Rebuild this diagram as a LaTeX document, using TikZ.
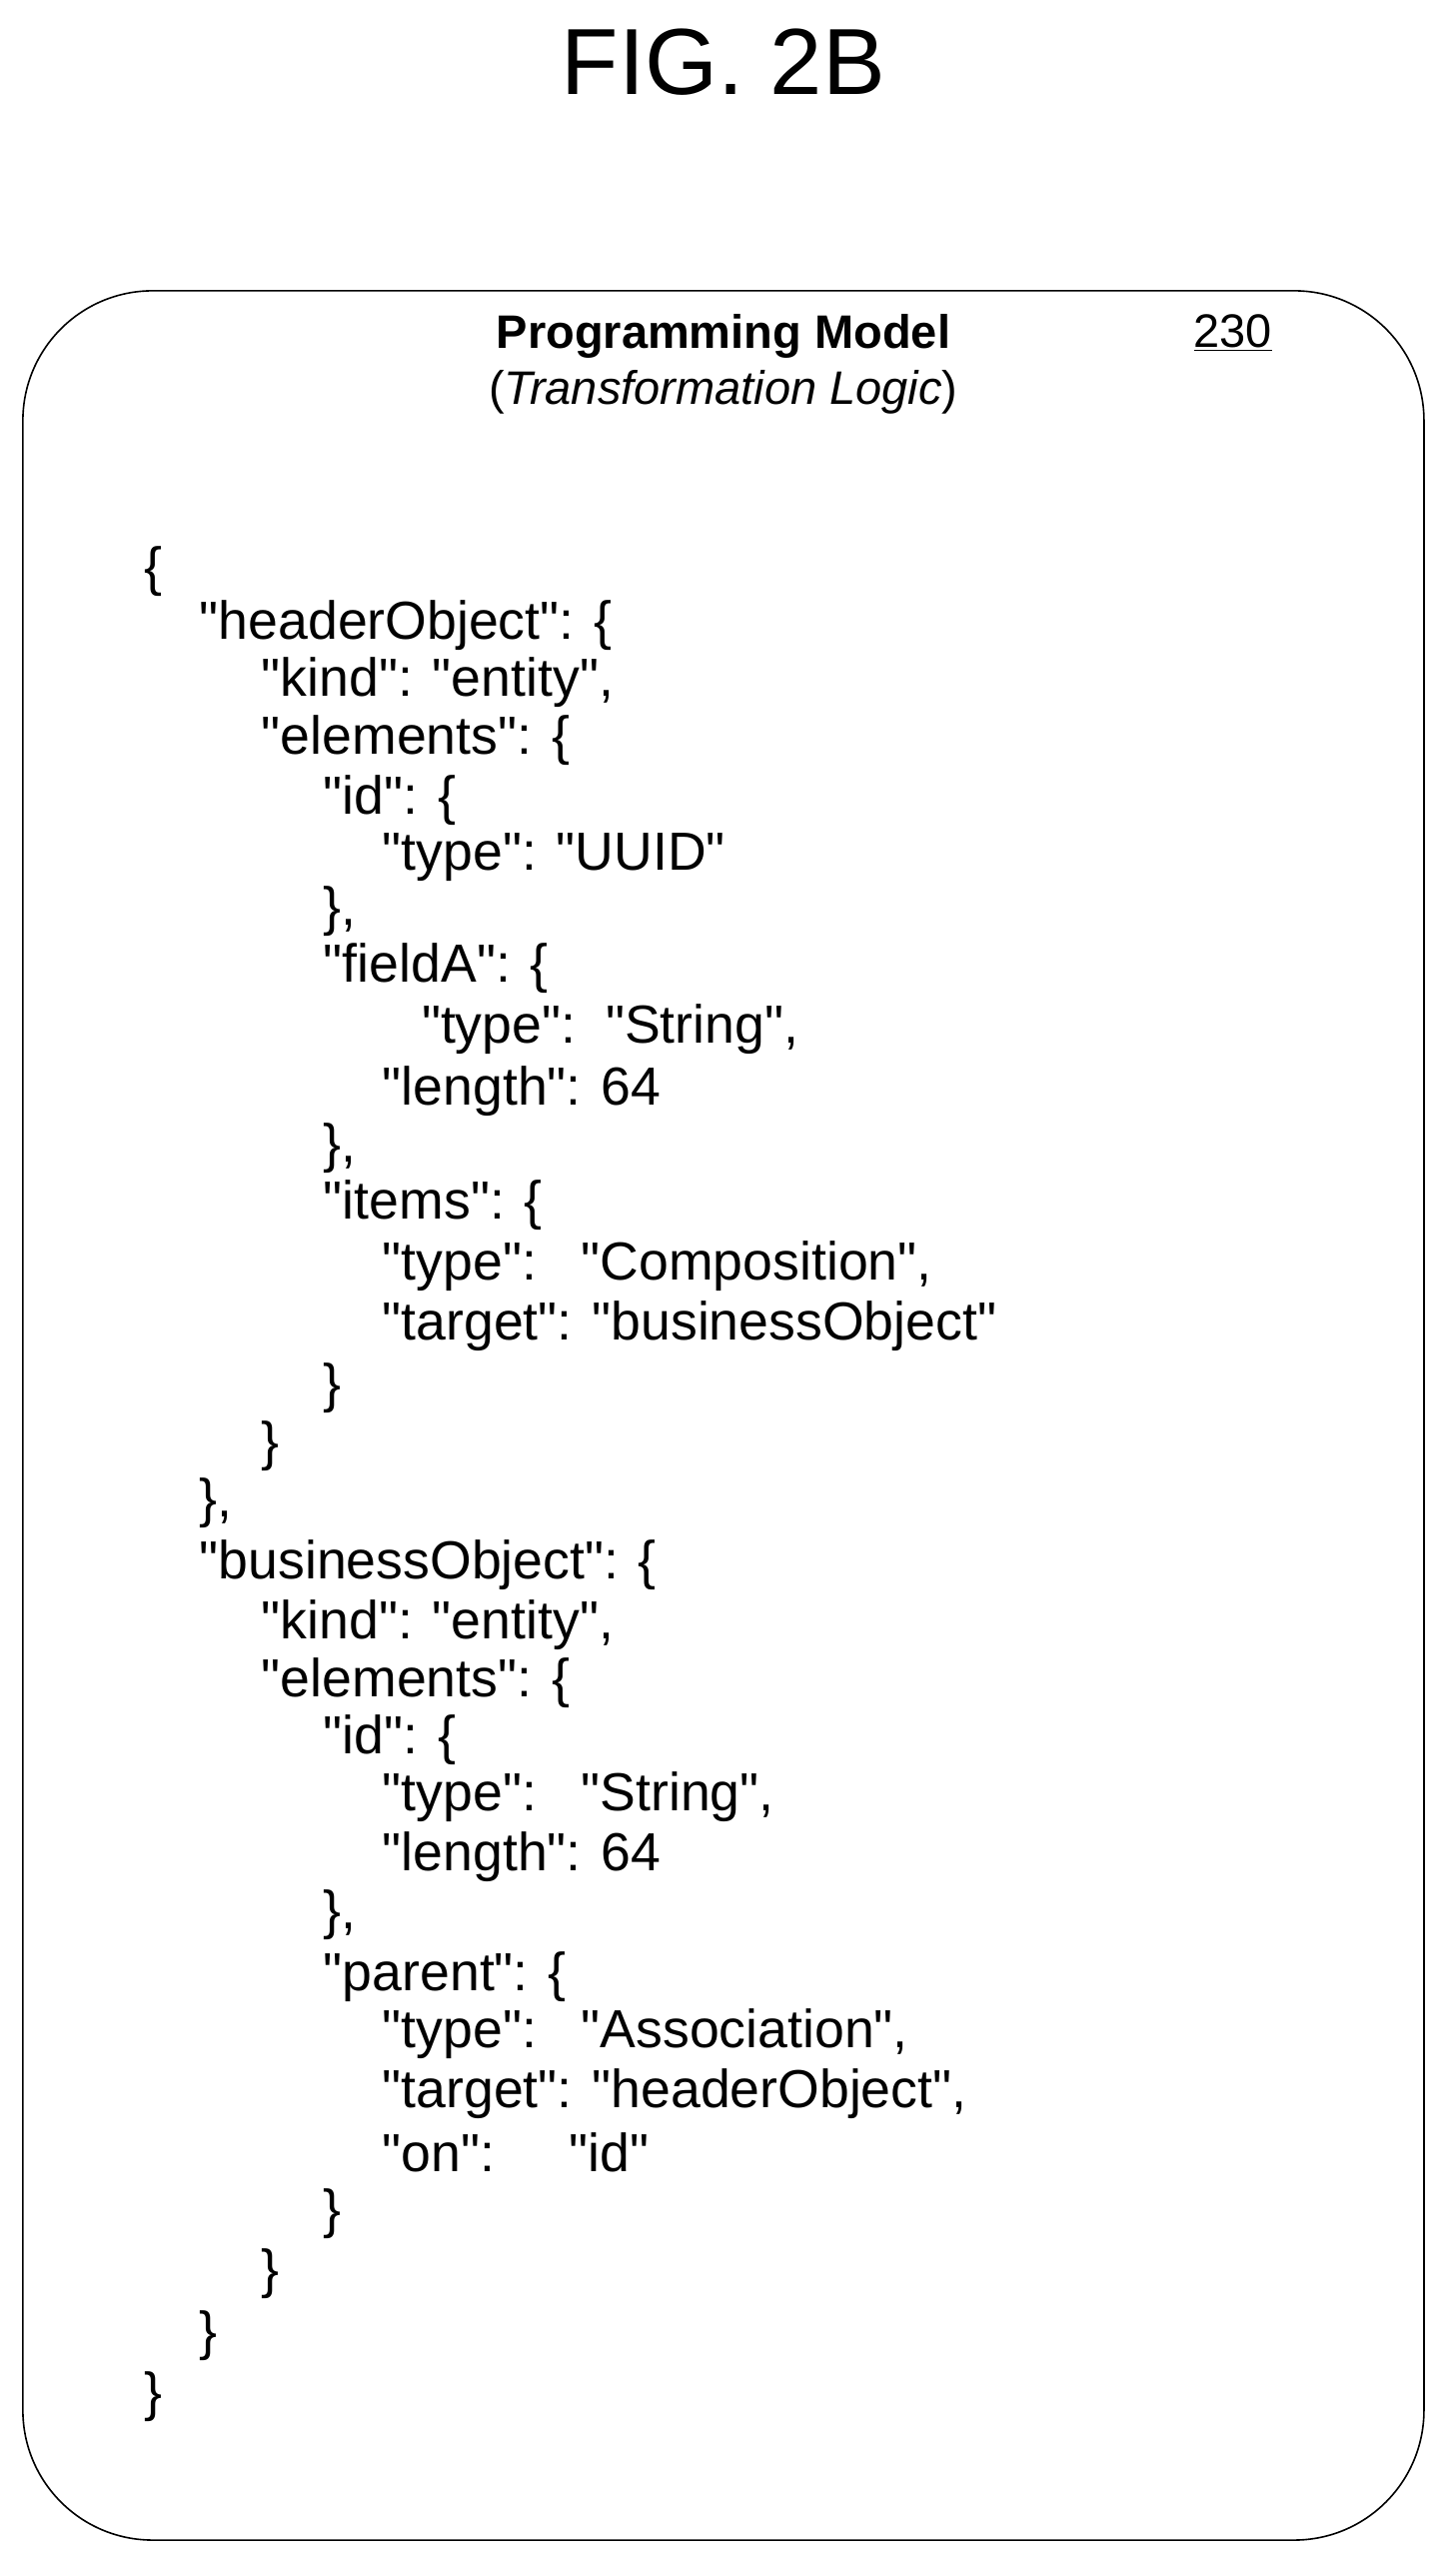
\documentclass[tikz,border=0pt]{standalone}
\usepackage{fontspec}
\setmainfont{Liberation Sans}[Ligatures=TeXOff]
\begin{document}
\begin{tikzpicture}[x=0.817pt,y=-0.817pt,
  code/.style={anchor=west,inner sep=0pt,font=\fontsize{26.8}{30}\selectfont},
  frame/.style={draw,line width=0.8pt,rounded corners=65pt}]
\useasboundingbox (0,0) rectangle (890,1577);
\node[inner sep=0pt,font=\fontsize{47}{52}\selectfont] (title) at (443,38) {FIG. 2B};
\draw[frame] (14,178) rectangle (872,1555);
\node[inner sep=0pt,font=\fontsize{23.5}{26}\selectfont\bfseries] (hdr) at (443,206) {Programming Model};
\node[inner sep=0pt,font=\fontsize{23.5}{26}\selectfont] (hdr2) at (443,240) {(\textit{Transformation Logic})};
\node[inner sep=0pt,font=\fontsize{23.5}{26}\selectfont] (ref) at (755,204) {\underline{230}};
\foreach \x/\y/\t in {
88/350/{\{},
122/383/{"headerObject": \{},
160/418/{"kind": "entity",},
160/453/{"elements": \{},
198/490/{"id": \{},
234/525/{"type": "UUID"},
198/558/{\},},
198/593/{"fieldA": \{},
258/630/{"type":\ \ "String",},
234/668/{"length": 64},
198/703/{\},},
198/738/{"items": \{},
234/775/{"type":\ \ \ "Composition",},
234/812/{"target": "businessObject"},
198/850/{\}},
160/885/{\}},
122/920/{\},},
122/958/{"businessObject": \{},
160/995/{"kind": "entity",},
160/1030/{"elements": \{},
198/1065/{"id": \{},
234/1100/{"type":\ \ \ "String",},
234/1137/{"length": 64},
198/1172/{\},},
198/1210/{"parent": \{},
234/1245/{"type":\ \ \ "Association",},
234/1282/{"target": "headerObject",},
234/1318/{"on":\ \ \ \ \ "id"},
198/1355/{\}},
160/1392/{\}},
122/1430/{\}},
88/1467/{\}}}
  \node[code] at (\x,\y) {\t};
\end{tikzpicture}
\end{document}
